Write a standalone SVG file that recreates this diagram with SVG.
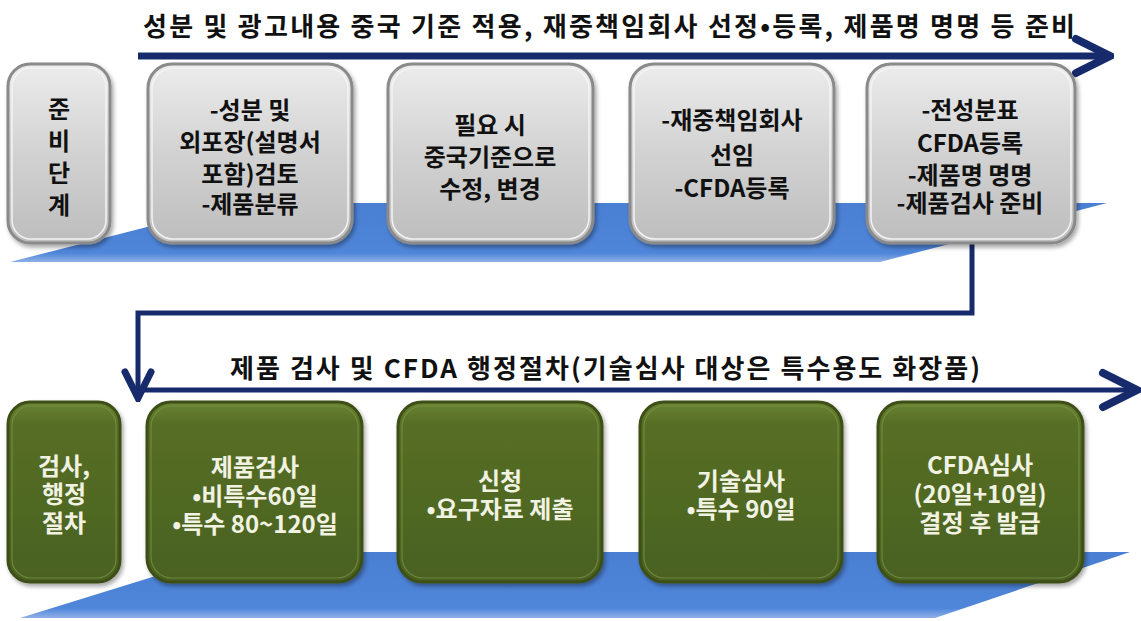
<svg xmlns="http://www.w3.org/2000/svg" width="1141" height="621" viewBox="0 0 1141 621">
<defs>
  <linearGradient id="gGray" x1="0" y1="0" x2="0" y2="1">
    <stop offset="0" stop-color="#ececec"/>
    <stop offset="0.5" stop-color="#d2d2d2"/>
    <stop offset="1" stop-color="#bdbdbd"/>
  </linearGradient>
  <linearGradient id="gGreen" x1="0" y1="0" x2="0" y2="1">
    <stop offset="0" stop-color="#6a8433"/>
    <stop offset="0.12" stop-color="#566e25"/>
    <stop offset="1" stop-color="#4a6120"/>
  </linearGradient>
  <linearGradient id="gBlue" x1="0" y1="0" x2="0" y2="1">
    <stop offset="0" stop-color="#4a7fd3"/>
    <stop offset="0.85" stop-color="#4f86da"/>
    <stop offset="1" stop-color="#8fb0e6"/>
  </linearGradient>
  <filter id="sh" x="-10%" y="-10%" width="125%" height="125%">
    <feDropShadow dx="2" dy="3" stdDeviation="2" flood-color="#000" flood-opacity="0.35"/>
  </filter>
  <marker id="chev" markerUnits="userSpaceOnUse" viewBox="-4 -22 44 44" refX="36" refY="0" markerWidth="44" markerHeight="44" orient="auto">
    <path d="M2,-17 L36,0 L2,17" fill="none" stroke="#172a6b" stroke-width="8" stroke-linejoin="miter" stroke-linecap="round"/>
  </marker>
  <marker id="chevS" markerUnits="userSpaceOnUse" viewBox="-4 -18 36 36" refX="28" refY="0" markerWidth="36" markerHeight="36" orient="auto">
    <path d="M2,-13 L28,0 L2,13" fill="none" stroke="#172a6b" stroke-width="7" stroke-linecap="round"/>
  </marker>
</defs>
<style>
  .gray { fill: url(#gGray); stroke: #8a8a8a; stroke-width: 3; filter: url(#sh); }
  .grayIn { fill: none; stroke: #f4f4f4; stroke-width: 1.5; }
  .green { fill: url(#gGreen); stroke: #3c4f18; stroke-width: 3; filter: url(#sh); }
  .greenIn { fill: none; stroke: #7c9645; stroke-width: 1.2; opacity: 0.7; }
  .floor { fill: url(#gBlue); }
  .t { font-family: "Noto Sans CJK KR", "Noto Sans", sans-serif; font-weight: bold; font-size: 24px; text-anchor: middle; }
  .dk { fill: #111; }
  .lt { fill: #f1f2e2; }
  .title { font-family: "Noto Sans CJK KR", "Noto Sans", sans-serif; font-weight: bold; font-size: 26px; fill: #111; }
  .ln { fill: none; stroke: #172a6b; }
</style>

<!-- floors -->
<polygon class="floor" points="10,262 241,203 1107,203 880,262"/>
<polygon class="floor" points="20,618 233,552 1130,552 935,618"/>

<!-- titles -->
<text class="title" x="143" y="36" textLength="932" lengthAdjust="spacing">성분 및 광고내용 중국 기준 적용, 재중책임회사 선정•등록, 제품명 명명 등 준비</text>
<text class="title" x="230" y="378" textLength="750" lengthAdjust="spacing">제품 검사 및 CFDA 행정절차(기술심사 대상은 특수용도 화장품)</text>

<!-- connectors -->
<g id="connectors">
  <path class="ln" d="M138,56 H1110" stroke-width="7" marker-end="url(#chev)"/>
  <path class="ln" d="M972,243 V313 H138 V398" stroke-width="5" marker-end="url(#chevS)"/>
  <path class="ln" d="M143,390 H1137" stroke-width="5" marker-end="url(#chev)"/>
</g>

<!-- top row -->
<g id="n-prep">
  <rect class="gray" x="8" y="64" width="102" height="179" rx="22"/>
  <rect class="grayIn" x="12" y="68" width="94" height="171" rx="19"/>
  <text class="t dk" x="59" y="118">준</text>
  <text class="t dk" x="59" y="150">비</text>
  <text class="t dk" x="59" y="182">단</text>
  <text class="t dk" x="59" y="214">계</text>
</g>
<g id="n-review">
  <rect class="gray" x="148" y="64" width="204" height="179" rx="24"/>
  <rect class="grayIn" x="152" y="68" width="196" height="171" rx="21"/>
  <text class="t dk" x="250" y="119">-성분 및</text>
  <text class="t dk" x="250" y="151">외포장(설명서</text>
  <text class="t dk" x="250" y="183">포함)검토</text>
  <text class="t dk" x="250" y="213">-제품분류</text>
</g>
<g id="n-modify">
  <rect class="gray" x="388" y="64" width="205" height="179" rx="24"/>
  <rect class="grayIn" x="392" y="68" width="197" height="171" rx="21"/>
  <text class="t dk" x="490" y="134">필요 시</text>
  <text class="t dk" x="490" y="166">중국기준으로</text>
  <text class="t dk" x="490" y="198">수정, 변경</text>
</g>
<g id="n-agent">
  <rect class="gray" x="630" y="64" width="204" height="179" rx="24"/>
  <rect class="grayIn" x="634" y="68" width="196" height="171" rx="21"/>
  <text class="t dk" x="732" y="129">-재중책임회사</text>
  <text class="t dk" x="732" y="164">선임</text>
  <text class="t dk" x="732" y="197">-CFDA등록</text>
</g>
<g id="n-ingredient">
  <rect class="gray" x="867" y="64" width="208" height="179" rx="24"/>
  <rect class="grayIn" x="871" y="68" width="200" height="171" rx="21"/>
  <text class="t dk" x="970" y="119">-전성분표</text>
  <text class="t dk" x="970" y="152">CFDA등록</text>
  <text class="t dk" x="970" y="184">-제품명 명명</text>
  <text class="t dk" x="970" y="212">-제품검사 준비</text>
</g>

<!-- bottom row -->
<g id="n-admin">
  <rect class="green" x="8" y="402" width="112" height="180" rx="22"/>
  <rect class="greenIn" x="12" y="406" width="104" height="172" rx="19"/>
  <text class="t lt" x="64" y="475">검사,</text>
  <text class="t lt" x="64" y="503">행정</text>
  <text class="t lt" x="64" y="532">절차</text>
</g>
<g id="n-test">
  <rect class="green" x="147" y="402" width="215" height="180" rx="24"/>
  <rect class="greenIn" x="151" y="406" width="207" height="172" rx="21"/>
  <text class="t lt" x="255" y="476">제품검사</text>
  <text class="t lt" x="255" y="505">•비특수60일</text>
  <text class="t lt" x="255" y="533">•특수 80~120일</text>
</g>
<g id="n-apply">
  <rect class="green" x="398" y="402" width="204" height="180" rx="24"/>
  <rect class="greenIn" x="402" y="406" width="196" height="172" rx="21"/>
  <text class="t lt" x="500" y="490">신청</text>
  <text class="t lt" x="500" y="518">•요구자료 제출</text>
</g>
<g id="n-tech">
  <rect class="green" x="640" y="402" width="202" height="180" rx="24"/>
  <rect class="greenIn" x="644" y="406" width="194" height="172" rx="21"/>
  <text class="t lt" x="741" y="490">기술심사</text>
  <text class="t lt" x="741" y="518">•특수 90일</text>
</g>
<g id="n-cfda">
  <rect class="green" x="878" y="402" width="205" height="180" rx="24"/>
  <rect class="greenIn" x="882" y="406" width="197" height="172" rx="21"/>
  <text class="t lt" x="980" y="474">CFDA심사</text>
  <text class="t lt" x="980" y="503">(20일+10일)</text>
  <text class="t lt" x="980" y="532">결정 후 발급</text>
</g>
</svg>
